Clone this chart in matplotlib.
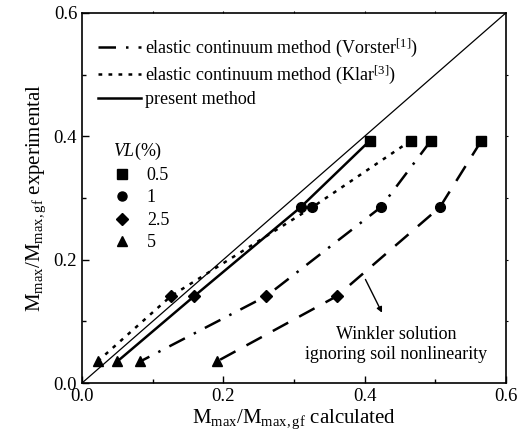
import matplotlib
matplotlib.use("Agg")
import matplotlib.pyplot as plt
from matplotlib.lines import Line2D

plt.rcParams['font.family'] = ['Liberation Serif', 'DejaVu Serif']
plt.rcParams['mathtext.fontset'] = 'custom'
plt.rcParams['mathtext.rm'] = 'Liberation Serif'
plt.rcParams['mathtext.it'] = 'Liberation Serif:italic'

vl_labels = ['0.5', '1', '2.5', '5']
experimental = [0.393, 0.285, 0.141, 0.035]
present_calc = [0.4075, 0.3095, 0.159, 0.050]
klar_calc = [0.4655, 0.326, 0.126, 0.022]
vorster_calc = [0.494, 0.423, 0.261, 0.0825]
winkler_calc = [0.5655, 0.5066, 0.361, 0.191]
markers = ['s', 'o', 'D', '^']

fig = plt.figure(figsize=(5.28, 4.4), dpi=100)
ax = fig.add_axes([0.1553, 0.1295, 0.8027, 0.841])

ax.plot([0, 0.6], [0, 0.6], color='black', lw=0.9)

styles = {
    'vorster': (0, (7, 4, 1, 4)),
    'klar': (0, (1.5, 2.5)),
    'present': '-',
    'winkler': (0, (7, 5)),
}
series = [('present', present_calc), ('klar', klar_calc),
          ('vorster', vorster_calc), ('winkler', winkler_calc)]
for name, xs in series:
    ax.plot(xs, experimental, color='black', lw=1.8, linestyle=styles[name])
    for x, y, m in zip(xs, experimental, markers):
        ax.plot([x], [y], marker=m, color='black', markersize=7 if m != 'D' else 6.5,
                linestyle='none')

ax.set_xlim(0, 0.6)
ax.set_ylim(0, 0.6)
ax.set_xticks([0.0, 0.2, 0.4, 0.6])
ax.set_yticks([0.0, 0.2, 0.4, 0.6])
ax.set_xticks([0.1, 0.3, 0.5], minor=True)
ax.set_yticks([0.1, 0.3, 0.5], minor=True)
ax.set_xticklabels(['0.0', '0.2', '0.4', '0.6'])
ax.set_yticklabels(['0.0', '0.2', '0.4', '0.6'])
ax.tick_params(which='both', direction='in', top=False, right=False, labelsize=13.5, width=1)
ax.tick_params(which='major', length=5)
ax.tick_params(which='minor', length=3)
for s in ax.spines.values():
    s.set_linewidth(1.2)

# tiny outward ticks on top and right spines
sec_x = ax.secondary_xaxis('top')
sec_x.set_xticks([0.1, 0.2, 0.3, 0.4, 0.5])
sec_x.tick_params(direction='out', length=1.5, width=0.8, labeltop=False)
sec_x.spines['top'].set_visible(False)
sec_y = ax.secondary_yaxis('right')
sec_y.set_yticks([0.1, 0.2, 0.3, 0.4, 0.5])
sec_y.tick_params(direction='out', length=1.5, width=0.8, labelright=False)
sec_y.spines['right'].set_visible(False)

ax.set_xlabel(r'M$_{\mathrm{max}}$/M$_{\mathrm{max,gf}}$ calculated', fontsize=15, labelpad=2)
ax.set_ylabel(r'M$_{\mathrm{max}}$/M$_{\mathrm{max,gf}}$ experimental', fontsize=15, labelpad=4)

line_handles = [
    Line2D([], [], color='black', lw=1.8, linestyle=styles['vorster']),
    Line2D([], [], color='black', lw=1.8, linestyle=styles['klar']),
    Line2D([], [], color='black', lw=1.8, linestyle='-'),
]
line_labels = [r'elastic continuum method (Vorster$^{[1]}$)',
               r'elastic continuum method (Klar$^{[3]}$)',
               'present method']
leg1 = ax.legend(line_handles, line_labels, loc='upper left', bbox_to_anchor=(0.02, 0.955),
                 frameon=False, fontsize=13, handlelength=2.4, handletextpad=0.2,
                 labelspacing=0.25, borderaxespad=0)
ax.add_artist(leg1)

marker_handles = [Line2D([], [], color='black', marker=m, linestyle='none',
                         markersize=6.5 if m != 'D' else 6) for m in markers]
leg2 = ax.legend(marker_handles, vl_labels, loc='upper left', bbox_to_anchor=(0.055, 0.675),
                 frameon=False, fontsize=13, handlelength=1.0, handletextpad=0.9,
                 labelspacing=0.3, borderaxespad=0, title=r'$VL$(%)',
                 title_fontsize=13, alignment='left')

ax.annotate('', xy=(0.4265, 0.11), xytext=(0.3995, 0.172),
            arrowprops=dict(arrowstyle='-|>', color='black', lw=1, mutation_scale=8))
ax.text(0.445, 0.062, 'Winkler solution\nignoring soil nonlinearity', ha='center', va='center',
        fontsize=13, linespacing=1.25)

fig.savefig('out.png', dpi=100)
